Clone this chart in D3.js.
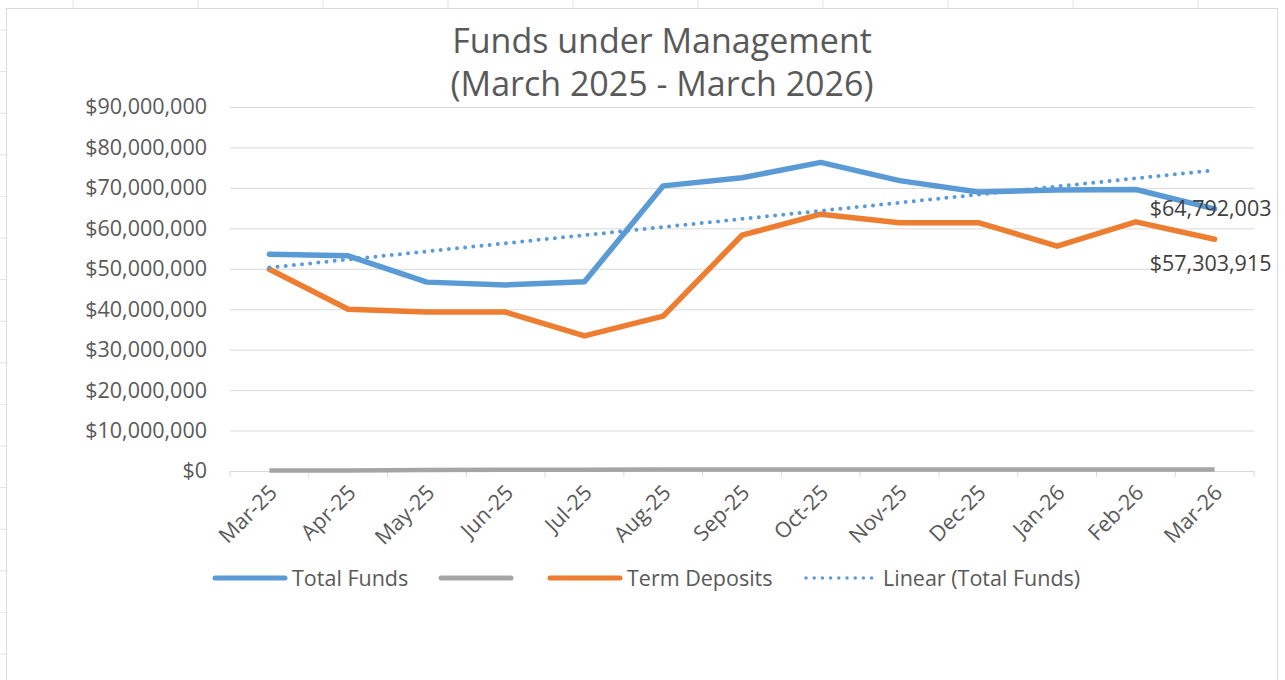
<!doctype html>
<html>
  <head>
    <script src="https://cdn.jsdelivr.net/npm/d3@7"></script>
    <style>
      body { margin: 0; background: #fff; }
      text { font-family: "Open Sans", "Liberation Sans", sans-serif; }
    </style>
  </head>
  <body>
    <div id="my_dataviz"></div>
    <script>
      // months on the x axis
      var months = ["Mar-25", "Apr-25", "May-25", "Jun-25", "Jul-25", "Aug-25", "Sep-25",
                    "Oct-25", "Nov-25", "Dec-25", "Jan-26", "Feb-26", "Mar-26"];

      // series values
      var totalFunds = [53600000, 53200000, 46700000, 46000000, 46800000, 70500000, 72500000,
                        76300000, 71800000, 69000000, 69500000, 69600000, 64792003];
      var otherFunds = [100000, 150000, 250000, 300000, 320000, 350000, 350000,
                        380000, 380000, 400000, 400000, 400000, 400000];
      var termDeposits = [49900000, 40000000, 39300000, 39300000, 33400000, 38300000, 58300000,
                          63500000, 61400000, 61400000, 55600000, 61600000, 57303915];

      var yTicks = [0, 10000000, 20000000, 30000000, 40000000, 50000000, 60000000, 70000000, 80000000, 90000000];

      var W = 1285, H = 680;
      var plotLeft = 230, plotRight = 1254, plotTop = 107, plotBottom = 471;
      var fs = "21.5px";

      var svg = d3.select("#my_dataviz")
        .append("svg")
        .attr("width", W)
        .attr("height", H);

      svg.append("rect").attr("width", W).attr("height", H).attr("fill", "#fff");

      // spreadsheet cell lines peeking round the chart
      var colLines = d3.range(73, W, 125);
      svg.selectAll(".colLine").data(colLines).enter().append("line")
        .attr("x1", function(d) { return d; }).attr("x2", function(d) { return d; })
        .attr("y1", 0).attr("y2", 8)
        .attr("stroke", "#e3e3e3");
      var rowLines = d3.range(30, H, 41.6);
      svg.selectAll(".rowLine").data(rowLines).enter().append("line")
        .attr("x1", 0).attr("x2", 6)
        .attr("y1", function(d) { return d; }).attr("y2", function(d) { return d; })
        .attr("stroke", "#e3e3e3");

      // chart frame
      svg.append("rect")
        .attr("x", 6.5).attr("y", 8.5)
        .attr("width", 1271).attr("height", 700)
        .attr("fill", "#fff")
        .attr("stroke", "#d9d9d9");

      // title
      var title = svg.append("text")
        .attr("text-anchor", "middle")
        .attr("fill", "#595959")
        .style("font-size", "34px");
      title.append("tspan").attr("x", 662).attr("y", 53).text("Funds under Management");
      title.append("tspan").attr("x", 662).attr("y", 96).text("(March 2025 - March 2026)");

      // scales
      var x = d3.scaleBand().domain(months).range([plotLeft, plotRight]);
      var cx = function(m) { return x(m) + x.bandwidth() / 2; };
      var y = d3.scaleLinear().domain([0, 90000000]).range([plotBottom, plotTop]);

      // gridlines + y labels
      var yAxis = d3.axisLeft(y)
        .tickValues(yTicks)
        .tickSize(-(plotRight - plotLeft))
        .tickPadding(23)
        .tickFormat(d3.format("$,.0f"));
      var gy = svg.append("g")
        .attr("transform", "translate(" + plotLeft + ",0)")
        .call(yAxis);
      gy.select(".domain").remove();
      gy.selectAll(".tick line").attr("stroke", "#d9d9d9");
      gy.selectAll(".tick text")
        .attr("fill", "#595959")
        .style("font-size", fs);

      // x axis: line, ticks at category edges, rotated labels
      var xAxis = d3.axisBottom(x).tickSize(0).tickPadding(0);
      var gx = svg.append("g")
        .attr("transform", "translate(0," + plotBottom + ")")
        .call(xAxis);
      gx.select(".domain").attr("stroke", "#d9d9d9");
      gx.selectAll(".tick text")
        .attr("fill", "#595959")
        .style("font-size", fs)
        .attr("text-anchor", "end")
        .attr("x", 0).attr("y", 0).attr("dy", 0)
        .attr("transform", "translate(9,23) rotate(-45)");
      var edges = months.map(function(m) { return x(m); }).concat([plotRight]);
      svg.selectAll(".xTick").data(edges).enter().append("line")
        .attr("x1", function(d) { return d; }).attr("x2", function(d) { return d; })
        .attr("y1", plotBottom).attr("y2", plotBottom + 6)
        .attr("stroke", "#d9d9d9");

      // linear trend of total funds (least squares)
      var idx = d3.range(months.length);
      var mx = d3.mean(idx), my = d3.mean(totalFunds);
      var slope = d3.sum(idx, function(i) { return (i - mx) * (totalFunds[i] - my); }) /
                  d3.sum(idx, function(i) { return (i - mx) * (i - mx); });
      var trend = idx.map(function(i) { return my + slope * (i - mx); });

      var line = d3.line()
        .x(function(d, i) { return cx(months[i]); })
        .y(function(d) { return y(d); });

      svg.append("path").datum(otherFunds)
        .attr("d", line).attr("fill", "none")
        .attr("stroke", "#a5a5a5").attr("stroke-width", 4.5)
        .attr("stroke-linejoin", "round");

      svg.append("path").datum(termDeposits)
        .attr("d", line).attr("fill", "none")
        .attr("stroke", "#ed7d31").attr("stroke-width", 5.5)
        .attr("stroke-linejoin", "round").attr("stroke-linecap", "round");

      svg.append("path").datum(totalFunds)
        .attr("d", line).attr("fill", "none")
        .attr("stroke", "#5b9bd5").attr("stroke-width", 5.5)
        .attr("stroke-linejoin", "round").attr("stroke-linecap", "round");

      svg.append("path").datum(trend)
        .attr("d", line).attr("fill", "none")
        .attr("stroke", "#5b9bd5").attr("stroke-width", 4)
        .attr("stroke-dasharray", "0 8.2")
        .attr("stroke-linecap", "round");

      // data labels on the last point
      var last = months.length - 1;
      svg.append("text")
        .attr("x", cx(months[last]) - 4)
        .attr("y", y(totalFunds[last]))
        .attr("dy", "0.35em")
        .attr("text-anchor", "middle")
        .attr("fill", "#404040")
        .style("font-size", fs)
        .text(d3.format("$,.0f")(totalFunds[last]));
      svg.append("text")
        .attr("x", cx(months[last]) - 4)
        .attr("y", y(termDeposits[last]) + 24)
        .attr("dy", "0.35em")
        .attr("text-anchor", "middle")
        .attr("fill", "#404040")
        .style("font-size", fs)
        .text(d3.format("$,.0f")(termDeposits[last]));

      // legend
      var legend = [
        {name: "Total Funds", color: "#5b9bd5", x: 213, dash: null, w: 5},
        {name: "", color: "#a5a5a5", x: 439, dash: null, w: 5},
        {name: "Term Deposits", color: "#ed7d31", x: 548, dash: null, w: 5},
        {name: "Linear (Total Funds)", color: "#5b9bd5", x: 804, dash: "0 8.2", w: 3.5}
      ];
      var lg = svg.selectAll(".legend").data(legend).enter().append("g")
        .attr("transform", function(d) { return "translate(" + d.x + ",578)"; });
      lg.append("line")
        .attr("x1", 2).attr("x2", 72)
        .attr("stroke", function(d) { return d.color; })
        .attr("stroke-width", function(d) { return d.w; })
        .attr("stroke-linecap", "round")
        .attr("stroke-dasharray", function(d) { return d.dash; });
      lg.append("text")
        .attr("x", 79).attr("dy", "0.35em")
        .attr("fill", "#595959")
        .style("font-size", fs)
        .text(function(d) { return d.name; });
    </script>
  </body>
</html>
